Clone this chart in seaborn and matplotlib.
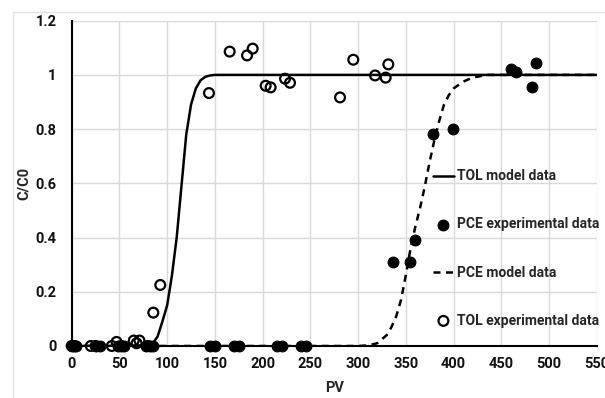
# Breakthrough curves – TOL vs PCE (C/C0 against pore volumes)
# ------------------------------------------------------------

import matplotlib
matplotlib.use("Agg")
import matplotlib.pyplot as plt
from matplotlib.patches import Rectangle
from matplotlib.ticker import FuncFormatter
import seaborn as sns
import pandas as pd

# -----------------------------
# 1. Data
# -----------------------------
tol_model_pv = [0, 80, 85, 90, 95, 100, 105, 110, 115, 120, 125, 130, 135,
                140, 145, 150, 550]
tol_model_c = [0, 0, 0.01, 0.035, 0.09, 0.15, 0.26, 0.40, 0.59, 0.78, 0.89,
               0.95, 0.98, 0.993, 0.998, 1.0, 1.0]

pce_model_pv = [0, 300, 310, 320, 330, 335, 340, 345, 350, 355, 360, 365,
                370, 375, 380, 385, 390, 395, 400, 410, 420, 435, 450, 550]
pce_model_c = [0, 0, 0.002, 0.01, 0.04, 0.07, 0.11, 0.17, 0.26, 0.36, 0.44,
               0.51, 0.59, 0.68, 0.76, 0.83, 0.89, 0.925, 0.95, 0.975, 0.99,
               1.0, 1.0, 1.0]

tol_exp_pv = [0, 3, 20, 25, 42, 47, 52, 65, 68, 71, 80, 85.5, 92.8, 143.8,
              165.5, 183.7, 189.6, 203.2, 208.4, 223.5, 228.7, 281.1, 295,
              317.8, 328.9, 331.7]
tol_exp_c = [0, 0, 0, 0, 0, 0.015, 0, 0.02, 0.01, 0.02, 0, 0.123, 0.225,
             0.933, 1.086, 1.072, 1.097, 0.960, 0.954, 0.986, 0.971, 0.917,
             1.056, 0.998, 0.990, 1.039]

pce_exp_pv = [0, 2, 5, 25, 30, 48, 52, 55, 78, 82, 85, 145, 150, 170, 175,
              215, 220, 240, 245, 336.6, 354.8, 359.4, 378.1, 399.8, 460.2,
              465.1, 482.6, 486.4]
pce_exp_c = [0] * 19 + [0.309, 0.309, 0.39, 0.781, 0.799, 1.022, 1.01,
                        0.954, 1.043]

x_ticks = list(range(0, 551, 50))
y_ticks = [0, 0.2, 0.4, 0.6, 0.8, 1.0, 1.2]

tol_model = pd.DataFrame({"PV": tol_model_pv, "C/C0": tol_model_c})
pce_model = pd.DataFrame({"PV": pce_model_pv, "C/C0": pce_model_c})
tol_exp = pd.DataFrame({"PV": tol_exp_pv, "C/C0": tol_exp_c})
pce_exp = pd.DataFrame({"PV": pce_exp_pv, "C/C0": pce_exp_c})

# -----------------------------
# 2. Style
# -----------------------------
sns.set_style("white")
plt.rcParams["font.family"] = ["Roboto", "DejaVu Sans"]
plt.rcParams["font.weight"] = "bold"

fig = plt.figure(figsize=(6.05, 3.98), dpi=100)
ax = fig.add_axes([0.1185, 0.1307, 0.8678, 0.8173])

# light chart-area border (cut off at right / bottom like the original)
fig.patches.append(Rectangle((13 / 605, -0.1), 1.2, 1.1 - 12 / 398,
                             transform=fig.transFigure, fill=False,
                             edgecolor="#e3e3e3", lw=1, zorder=0))

# -----------------------------
# 3. Plot
# -----------------------------
sns.lineplot(data=tol_model, x="PV", y="C/C0", ax=ax, color="black",
             lw=1.8, sort=False, label="TOL model data", zorder=3)
sns.scatterplot(data=pce_exp, x="PV", y="C/C0", ax=ax, color="black",
                s=60, edgecolor="black", linewidth=0.8,
                label="PCE experimental data", zorder=4, clip_on=False)
sns.lineplot(data=pce_model, x="PV", y="C/C0", ax=ax, color="black",
             lw=1.8, sort=False, label="PCE model data", zorder=3,
             dashes=False, linestyle=(0, (2.8, 2.2)))
sns.scatterplot(data=tol_exp, x="PV", y="C/C0", ax=ax, facecolor="none",
                edgecolor="black", linewidth=1.6, s=50,
                label="TOL experimental data", zorder=5, clip_on=False)

ax.set_xlim(0, 550)
ax.set_ylim(0, 1.2)
ax.set_xticks(x_ticks)
ax.set_yticks(y_ticks)
ax.yaxis.set_major_formatter(FuncFormatter(lambda v, p: f"{v:g}"))
ax.grid(True, color="#d9d9d9", lw=1)
ax.set_axisbelow(True)
for side in ["top", "right"]:
    ax.spines[side].set_visible(False)
for side in ["left", "bottom"]:
    ax.spines[side].set_color("black")
    ax.spines[side].set_linewidth(1.5)
    ax.spines[side].set_zorder(2.5)
ax.tick_params(axis="both", length=0, labelsize=10.5, colors="#111111")
ax.tick_params(axis="y", pad=11)
ax.tick_params(axis="x", pad=8)
for lab in ax.get_xticklabels() + ax.get_yticklabels():
    lab.set_fontweight("bold")

ax.set_xlabel("PV", fontsize=10.5, fontweight="bold", labelpad=7)
ax.set_ylabel("C/C0", fontsize=10.5, fontweight="bold", labelpad=3)

ax.get_legend().remove()
handles, labels = ax.get_legend_handles_labels()
leg = fig.legend(handles, labels, loc="center left",
                 bbox_to_anchor=(433 / 605, 1 - 248.5 / 398),
                 frameon=False, fontsize=10, borderpad=0, borderaxespad=0,
                 handlelength=1.5, handletextpad=0.2, labelspacing=2.45)
for t in leg.get_texts():
    t.set_fontweight("bold")

plt.savefig("out.png", dpi=100)
